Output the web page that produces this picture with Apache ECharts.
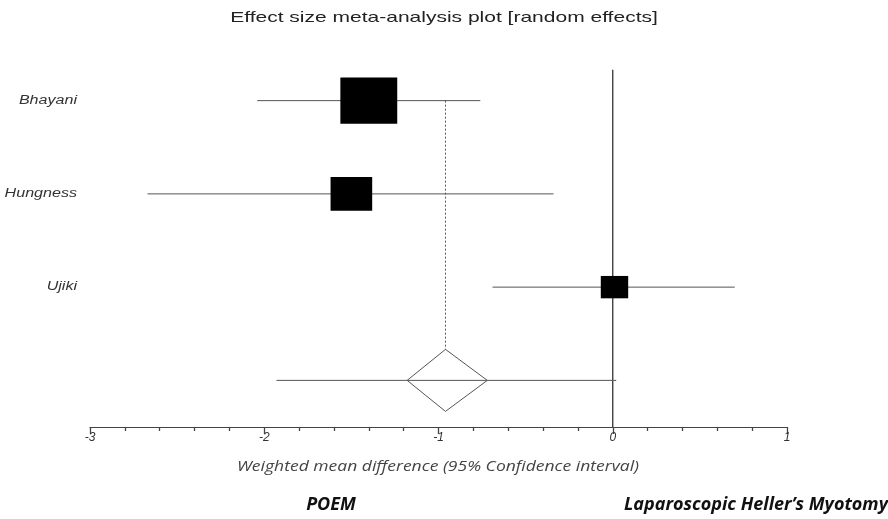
<!DOCTYPE html>
<html><head><meta charset="utf-8">
<script src="https://cdn.jsdelivr.net/npm/echarts@6/dist/echarts.min.js"></script>
<style>html,body{margin:0;padding:0;background:#fff}#c{width:888px;height:519px}</style>
</head><body><div id="c"></div>
<script>
const studies = ['Bhayani', 'Hungness', 'Ujiki'];
const studyRows = [4, 3, 2];
const estimates = [-1.40, -1.50, 0.01];
const lowerCI = [-2.04, -2.67, -0.69];
const upperCI = [-0.76, -0.34, 0.70];
const weights = [56, 30, 13];
const pooledRow = 1;
const pooledEstimate = -0.96;
const pooledCI = [-1.18, -0.72];
const predictionInterval = [-1.93, 0.02];
const xTicks = [-3, -2, -1, 0, 1];

const studyData = studies.map((s, i) => [estimates[i], studyRows[i], lowerCI[i], upperCI[i], weights[i], s]);
const lineColor = '#555';

const chart = echarts.init(document.getElementById('c'));
chart.setOption({
  animation: false,
  backgroundColor: '#fff',
  grid: { left: 90, right: 101, top: 68, bottom: 92 },
  xAxis: {
    type: 'value', min: xTicks[0], max: xTicks[xTicks.length - 1], interval: 1,
    axisLine: { show: true, lineStyle: { color: '#444', width: 1.2 } },
    axisTick: { show: true, length: 7, lineStyle: { color: '#444', width: 1.3 } },
    minorTick: { show: true, splitNumber: 5, length: 4, lineStyle: { color: '#444', width: 1.3 } },
    splitLine: { show: false },
    axisLabel: { fontFamily: 'Liberation Sans', fontStyle: 'italic', fontSize: 12, color: '#333', margin: 5 }
  },
  yAxis: { type: 'value', min: 0.5, max: 4.35, show: false },
  graphic: [
    { type: 'text', x: 444, y: 18, scaleX: 1.4, style: { text: 'Effect size meta-analysis plot [random effects]', font: '15px "Liberation Sans"', fill: '#222', textAlign: 'center', textVerticalAlign: 'middle' } },
    { type: 'text', x: 438, y: 467, scaleX: 1.25, style: { text: 'Weighted mean difference (95% Confidence interval)', font: 'italic 14px "Open Sans"', fill: '#444', textAlign: 'center', textVerticalAlign: 'middle' } },
    { type: 'text', x: 331, y: 505, style: { text: 'POEM', font: 'italic bold 18px "Open Sans"', fill: '#111', textAlign: 'center', textVerticalAlign: 'middle' } },
    { type: 'text', x: 756, y: 505, style: { text: 'Laparoscopic Heller\u2019s Myotomy', font: 'italic bold 18px "Open Sans"', fill: '#111', textAlign: 'center', textVerticalAlign: 'middle' } }
  ],
  series: [
    {
      type: 'custom', silent: true, clip: false,
      data: [[0]],
      renderItem: function (params, api) {
        const a = api.coord([0, 0.5]);
        const b = api.coord([0, 4.33]);
        return { type: 'line', shape: { x1: a[0], y1: a[1], x2: b[0], y2: b[1] }, style: { stroke: '#333', lineWidth: 1.3 } };
      }
    },
    {
      type: 'custom', silent: true, clip: false,
      data: studyData,
      renderItem: function (params, api) {
        const c = api.coord([api.value(0), api.value(1)]);
        const l = api.coord([api.value(2), api.value(1)]);
        const r = api.coord([api.value(3), api.value(1)]);
        const w = 7.6 * Math.sqrt(api.value(4));
        const h = 6.2 * Math.sqrt(api.value(4));
        const lab = api.coord([xTicks[0], api.value(1)]);
        return { type: 'group', children: [
          { type: 'line', shape: { x1: l[0], y1: l[1], x2: r[0], y2: r[1] }, style: { stroke: lineColor, lineWidth: 1 } },
          { type: 'rect', shape: { x: c[0] - w / 2, y: c[1] - h / 2, width: w, height: h }, style: { fill: '#000' } },
          { type: 'text', x: lab[0] - 13, y: lab[1], scaleX: 1.34, style: { text: studies[params.dataIndex], font: 'italic 12px "Liberation Sans"', fill: '#333', textAlign: 'right', textVerticalAlign: 'middle' } }
        ] };
      }
    },
    {
      type: 'custom', silent: true, clip: false,
      data: [[pooledEstimate, pooledRow, pooledCI[0], pooledCI[1], predictionInterval[0], predictionInterval[1]]],
      renderItem: function (params, api) {
        const y = api.value(1);
        const c = api.coord([api.value(0), y]);
        const dl = api.coord([api.value(2), y]);
        const dr = api.coord([api.value(3), y]);
        const pl = api.coord([api.value(4), y]);
        const pr = api.coord([api.value(5), y]);
        const top = api.coord([api.value(0), studyRows[0]]);
        const hh = 31;
        return { type: 'group', children: [
          { type: 'line', shape: { x1: pl[0], y1: pl[1], x2: pr[0], y2: pr[1] }, style: { stroke: lineColor, lineWidth: 1 } },
          { type: 'polygon', shape: { points: [[dl[0], c[1]], [c[0], c[1] - hh], [dr[0], c[1]], [c[0], c[1] + hh]] }, style: { fill: 'none', stroke: lineColor, lineWidth: 1 } },
          { type: 'line', shape: { x1: top[0], y1: top[1], x2: c[0], y2: c[1] - hh }, style: { stroke: lineColor, lineWidth: 1, lineDash: [2, 2] } }
        ] };
      }
    }
  ]
});
</script></body></html>
